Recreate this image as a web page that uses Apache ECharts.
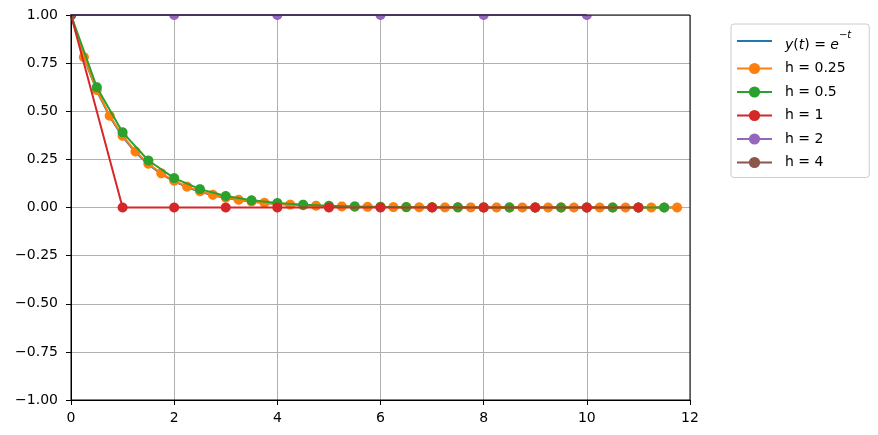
<!DOCTYPE html>
<html>
<head>
<meta charset="utf-8">
<script src="https://cdn.jsdelivr.net/npm/echarts@6/dist/echarts.min.js"></script>
<style>html,body{margin:0;padding:0;background:#fff}#c{width:878px;height:435px}</style>
</head>
<body>
<div id="c"></div>
<script>
// ---- data ----
const tQuarter = [0,0.25,0.5,0.75,1,1.25,1.5,1.75,2,2.25,2.5,2.75,3,3.25,3.5,3.75,4,4.25,4.5,4.75,5,5.25,5.5,5.75,6,6.25,6.5,6.75,7,7.25,7.5,7.75,8,8.25,8.5,8.75,9,9.25,9.5,9.75,10,10.25,10.5,10.75,11,11.25,11.5,11.75];
const yExact = [1,0.7788,0.6065,0.4724,0.3679,0.2865,0.2231,0.1738,0.1353,0.1054,0.0821,0.0639,0.0498,0.0388,0.0302,0.0235,0.0183,0.0143,0.0111,0.0087,0.0067,0.0052,0.0041,0.0032,0.0025,0.0019,0.0015,0.0012,0.0009,0.0007,0.0006,0.0004,0.0003,0.0003,0.0002,0.0002,0.0001,0.0001,0.0001,0.0001,0,0,0,0,0,0,0,0];
const yH025 = [1,0.7813,0.6104,0.4768,0.3725,0.2910,0.2274,0.1776,0.1388,0.1084,0.0847,0.0662,0.0517,0.0404,0.0316,0.0247,0.0193,0.0150,0.0118,0.0092,0.0072,0.0056,0.0044,0.0034,0.0027,0.0021,0.0016,0.0013,0.0010,0.0008,0.0006,0.0005,0.0004,0.0003,0.0002,0.0002,0.0001,0.0001,0.0001,0.0001,0,0,0,0,0,0,0,0];
const tHalf = [0,0.5,1,1.5,2,2.5,3,3.5,4,4.5,5,5.5,6,6.5,7,7.5,8,8.5,9,9.5,10,10.5,11,11.5];
const yH05 = [1,0.625,0.3906,0.2441,0.1526,0.0954,0.0596,0.0373,0.0233,0.0146,0.0091,0.0057,0.0036,0.0022,0.0014,0.0009,0.0005,0.0003,0.0002,0.0001,0.0001,0.0001,0,0];
const tOne = [0,1,2,3,4,5,6,7,8,9,10,11];
const yH1 = [1,0,0,0,0,0,0,0,0,0,0,0];
const tTwo = [0,2,4,6,8,10];
const yH2 = [1,1,1,1,1,1];
const tFour = [0,4,8];
const yH4 = [1,5,25];
const xTicks = [0,2,4,6,8,10,12];
const yTicks = [-1,-0.75,-0.5,-0.25,0,0.25,0.5,0.75,1];
const EXACT = 'y(t) = e^(−t)';
const names = [EXACT,'h = 0.25','h = 0.5','h = 1','h = 2','h = 4'];
const colors = ['#1f77b4','#ff7f0e','#2ca02c','#d62728','#9467bd','#8c564b'];

const zip = (a,b) => a.map((v,i)=>[v,b[i]]);
const FONT = 'DejaVu Sans';
const MARKER_R = 5;

const chart = echarts.init(document.getElementById('c'), null, {renderer:'canvas'});

// line part (also provides the legend entry)
function mkLine(k, name, t, y, color){
  return {
    name, type:'line', data: zip(t,y), z: 2 + 2*k,
    color, lineStyle:{width:2, color},
    symbol:'none', showSymbol:false, symbolSize:10,
    itemStyle:{color}, clip:true, animation:false,
    emphasis:{disabled:true}, silent:true
  };
}
// markers, clipped to the plot rectangle like matplotlib does
function mkDots(k, name, t, y, color){
  return {
    name: name + ' markers', type:'custom', data: zip(t,y), z: 3 + 2*k,
    encode:{x:0, y:1}, clip:true, animation:false, silent:true,
    renderItem: (params, api) => {
      const p = api.coord([api.value(0), api.value(1)]);
      const cs = params.coordSys;
      const x0 = cs.x, x1 = cs.x + cs.width, y0 = cs.y, y1 = cs.y + cs.height;
      if (p[0] < x0 - MARKER_R || p[0] > x1 + MARKER_R || p[1] < y0 - MARKER_R || p[1] > y1 + MARKER_R) return null;
      const pts = [];
      for (let a = 0; a < 48; a++) {
        const ang = a / 48 * Math.PI * 2;
        const px = Math.min(x1, Math.max(x0, p[0] + MARKER_R * Math.cos(ang)));
        const py = Math.min(y1, Math.max(y0, p[1] + MARKER_R * Math.sin(ang)));
        pts.push([px, py]);
      }
      return {type:'polygon', shape:{points: pts}, style:{fill:color, stroke:null}};
    }
  };
}

const option = {
  animation:false,
  backgroundColor:'#fff',
  grid:{left:71, right:188, top:15, bottom:35, show:true, borderColor:'#000', borderWidth:1, backgroundColor:'transparent', zlevel:1, z:30},
  xAxis:{type:'value', min:xTicks[0], max:xTicks[xTicks.length-1], interval:2,
     splitLine:{show:true, lineStyle:{color:'#b0b0b0', width:1}},
     axisLine:{show:true, onZero:false, lineStyle:{color:'#000', width:1}},
     axisTick:{show:true, length:5, lineStyle:{color:'#000', width:1}},
     axisLabel:{show:true, margin:11, color:'#000', fontFamily:FONT, fontSize:14}},
  yAxis:{type:'value', min:yTicks[0], max:yTicks[yTicks.length-1], interval:0.25,
     splitLine:{show:true, lineStyle:{color:'#b0b0b0', width:1}},
     axisLine:{show:true, onZero:false, lineStyle:{color:'#000', width:1}},
     axisTick:{show:true, length:5, lineStyle:{color:'#000', width:1}},
     axisLabel:{show:true, margin:13, color:'#000', fontFamily:FONT, fontSize:14,
       formatter: v => v.toFixed(2).replace('-', '\u2212')}},
  legend:{
    orient:'vertical', left:731, top:24,
    data: names.map((n,i) => i === 0 ? {name:n, itemStyle:{opacity:0}} : {name:n}),
    itemWidth:35, itemHeight:14, itemGap:9.5,
    padding:[6,18,8,5],
    backgroundColor:'#fff', borderColor:'#cccccc', borderWidth:1, borderRadius:3,
    textStyle:{fontFamily:FONT, fontSize:14, color:'#000', padding:[0,0,0,8],
      rich:{
        n:{fontFamily:FONT, fontSize:14, color:'#000', lineHeight:22, verticalAlign:'bottom'},
        i:{fontFamily:FONT, fontSize:14, fontStyle:'italic', color:'#000', lineHeight:22, verticalAlign:'bottom'},
        sup:{fontFamily:FONT, fontSize:10, color:'#000', lineHeight:22, verticalAlign:'top'},
        supi:{fontFamily:FONT, fontSize:10, fontStyle:'italic', color:'#000', lineHeight:22, verticalAlign:'top'}
      }},
    formatter: name => name === EXACT ? '{i|y}{n|(}{i|t}{n|) = }{i|e}{sup|\u2212}{supi|t}' : name,
    selectedMode:false
  },
  series:[
    mkLine(0, names[0], tQuarter, yExact, colors[0]),
    mkLine(1, names[1], tQuarter, yH025, colors[1]), mkDots(1, names[1], tQuarter, yH025, colors[1]),
    mkLine(2, names[2], tHalf, yH05, colors[2]),     mkDots(2, names[2], tHalf, yH05, colors[2]),
    mkLine(3, names[3], tOne, yH1, colors[3]),       mkDots(3, names[3], tOne, yH1, colors[3]),
    mkLine(4, names[4], tTwo, yH2, colors[4]),       mkDots(4, names[4], tTwo, yH2, colors[4]),
    mkLine(5, names[5], tFour, yH4, colors[5]),      mkDots(5, names[5], tFour, yH4, colors[5])
  ]
};
chart.setOption(option);
</script>
</body>
</html>
